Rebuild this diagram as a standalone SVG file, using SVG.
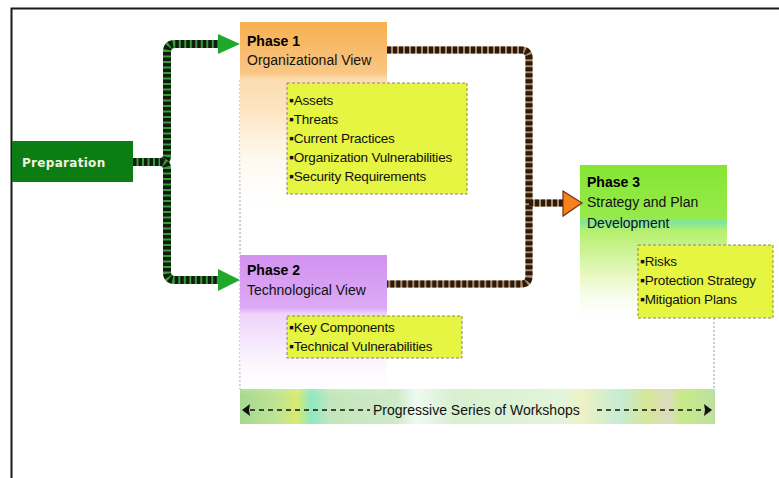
<svg xmlns="http://www.w3.org/2000/svg" width="779" height="478" viewBox="0 0 779 478">
<defs>
<style>
.t{font-family:"Liberation Sans",Arial,sans-serif;font-size:13.5px;fill:#111;letter-spacing:-0.2px}
.h{font-family:"Liberation Sans",Arial,sans-serif;font-size:14px;fill:#111}
.hb{font-family:"Liberation Sans",Arial,sans-serif;font-size:14px;font-weight:bold;fill:#000}
.b{font-size:14px}
.yb{fill:#e6f442;stroke:#8a8a50;stroke-width:1;stroke-dasharray:3 2}
.gl{fill:none;stroke:#9a9a9a;stroke-width:1;stroke-dasharray:2 2}
.gbase{fill:none;stroke:#3c9a3c;stroke-width:8}
.gdash{fill:none;stroke:#0e1d0e;stroke-width:8;stroke-dasharray:3.5 2}
.bbase{fill:none;stroke:#b08a60;stroke-width:7}
.bdash{fill:none;stroke:#2a1a10;stroke-width:7;stroke-dasharray:4 2}
</style>
<linearGradient id="g1" x1="0" y1="0" x2="0" y2="1">
<stop offset="0" stop-color="#f6b050"/>
<stop offset="0.27" stop-color="#f9c684"/>
<stop offset="0.3" stop-color="#fcdcb0"/>
<stop offset="0.45" stop-color="#fde4c0"/>
<stop offset="0.65" stop-color="#fef4e4"/>
<stop offset="1" stop-color="#ffffff" stop-opacity="0"/>
</linearGradient>
<linearGradient id="g2" x1="0" y1="0" x2="0" y2="1">
<stop offset="0" stop-color="#d292f0"/>
<stop offset="0.38" stop-color="#dcaaf4"/>
<stop offset="0.42" stop-color="#eed4fa"/>
<stop offset="0.7" stop-color="#f9effd"/>
<stop offset="1" stop-color="#ffffff" stop-opacity="0"/>
</linearGradient>
<linearGradient id="g3" x1="0" y1="0" x2="0" y2="1">
<stop offset="0" stop-color="#86e634"/>
<stop offset="0.33" stop-color="#96ea4c"/>
<stop offset="0.36" stop-color="#7ee6a0"/>
<stop offset="0.41" stop-color="#b4f06c"/>
<stop offset="0.7" stop-color="#eaf8c4"/>
<stop offset="1" stop-color="#ffffff" stop-opacity="0"/>
</linearGradient>
<linearGradient id="gw" x1="0" y1="0" x2="1" y2="0">
<stop offset="0" stop-color="#a6d890"/>
<stop offset="0.08" stop-color="#c0e494"/>
<stop offset="0.12" stop-color="#d8ea70"/>
<stop offset="0.15" stop-color="#8ee8c4"/>
<stop offset="0.19" stop-color="#c4e6bc"/>
<stop offset="0.33" stop-color="#cfeac8"/>
<stop offset="0.37" stop-color="#eefaf2"/>
<stop offset="0.45" stop-color="#d8f0d0"/>
<stop offset="0.68" stop-color="#e2f4da"/>
<stop offset="0.72" stop-color="#eef2c4"/>
<stop offset="0.8" stop-color="#c6ecd4"/>
<stop offset="0.86" stop-color="#d6e696"/>
<stop offset="0.9" stop-color="#dcdcc0"/>
<stop offset="0.93" stop-color="#c8ea88"/>
<stop offset="1" stop-color="#bce0a0"/>
</linearGradient>
</defs>
<rect width="779" height="478" fill="#ffffff"/>
<path d="M11.5,478 V8.5 H779" fill="none" stroke="#1a1a1a" stroke-width="2"/>

<g id="workshops">
<rect x="240" y="389" width="475" height="35" fill="url(#gw)"/>
<line x1="250" y1="410" x2="370" y2="410" stroke="#111" stroke-width="1.3" stroke-dasharray="5 4"/>
<line x1="597" y1="410" x2="703" y2="410" stroke="#111" stroke-width="1.3" stroke-dasharray="5 4"/>
<polygon points="242,410 250,404 249,410 250,416" fill="#111"/>
<polygon points="712,410 704,404 705,410 704,416" fill="#111"/>
<text x="373" y="415" font-family="Liberation Sans,Arial,sans-serif" font-size="14" fill="#111">Progressive Series of Workshops</text>
</g>

<g id="guides">
<line class="gl" x1="240" y1="80" x2="240" y2="389"/>
<line class="gl" x1="714" y1="318" x2="714" y2="389"/>
</g>

<g id="preparation">
<rect x="12" y="141" width="121" height="41" fill="#0b7d12"/>
<text x="22" y="167" font-family="DejaVu Sans,Verdana,sans-serif" font-size="12" font-weight="bold" fill="#f0f0e0" letter-spacing="0.3">Preparation</text>
</g>

<g id="phase1">
<rect x="240" y="22" width="147" height="190" fill="url(#g1)"/>
<text class="hb" x="247" y="46">Phase 1</text>
<text class="h" x="247" y="65">Organizational View</text>
</g>
<g id="phase1-items">
<rect class="yb" x="287" y="83" width="180" height="111"/>
<text class="t" x="289" y="105"><tspan class="b">▪</tspan>Assets</text>
<text class="t" x="289" y="124"><tspan class="b">▪</tspan>Threats</text>
<text class="t" x="289" y="143"><tspan class="b">▪</tspan>Current Practices</text>
<text class="t" x="289" y="162"><tspan class="b">▪</tspan>Organization Vulnerabilities</text>
<text class="t" x="289" y="181"><tspan class="b">▪</tspan>Security Requirements</text>
</g>

<g id="phase2">
<rect x="240" y="255" width="147" height="140" fill="url(#g2)"/>
<text class="hb" x="247" y="275">Phase 2</text>
<text class="h" x="247" y="295">Technological View</text>
</g>
<g id="phase2-items">
<rect class="yb" x="287" y="316" width="175" height="42"/>
<text class="t" x="289" y="332"><tspan class="b">▪</tspan>Key Components</text>
<text class="t" x="289" y="351"><tspan class="b">▪</tspan>Technical Vulnerabilities</text>
</g>

<g id="phase3">
<rect x="580" y="165" width="147" height="160" fill="url(#g3)"/>
<text class="hb" x="587" y="187">Phase 3</text>
<text class="h" x="587" y="207">Strategy and Plan</text>
<text class="h" x="587" y="228">Development</text>
</g>
<g id="phase3-items">
<rect class="yb" x="638" y="245" width="135" height="73"/>
<text class="t" x="640" y="266"><tspan class="b">▪</tspan>Risks</text>
<text class="t" x="640" y="285"><tspan class="b">▪</tspan>Protection Strategy</text>
<text class="t" x="640" y="304"><tspan class="b">▪</tspan>Mitigation Plans</text>
</g>

<g id="connectors">
<path class="gbase" d="M133,162 H160 Q167,162 167,155 V52 Q167,44 175,44 H219"/>
<path class="gdash" d="M133,162 H160 Q167,162 167,155 V52 Q167,44 175,44 H219"/>
<path class="gbase" d="M160,162 Q167,162 167,169 V272 Q167,280 175,280 H219"/>
<path class="gdash" d="M160,162 Q167,162 167,169 V272 Q167,280 175,280 H219"/>
<polygon points="218,34 240,44 218,54" fill="#1fa82a"/>
<polygon points="218,269 240,280 218,291" fill="#1fa82a"/>
<path class="bbase" d="M387,50 H521 Q529,50 529,58 V276 Q529,284 521,284 H387"/>
<path class="bdash" d="M387,50 H521 Q529,50 529,58 V276 Q529,284 521,284 H387"/>
<path class="bbase" d="M529,203 H564"/>
<path class="bdash" d="M529,203 H564"/>
<polygon points="563,191 582,203 563,216" fill="#f5821e" stroke="#7a2d10" stroke-width="1.2"/>
</g>
</svg>
